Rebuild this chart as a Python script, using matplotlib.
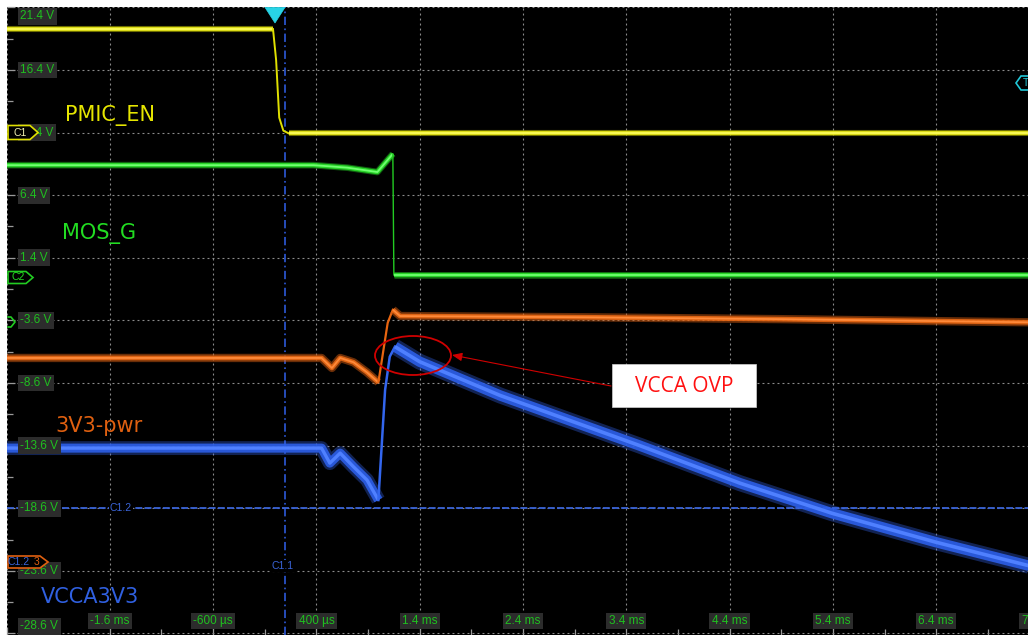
import matplotlib
matplotlib.use("Agg")
import matplotlib.pyplot as plt
from matplotlib.patches import Ellipse, Rectangle, Polygon

plt.rcParams['lines.scale_dashes'] = False

# ---------------- data (time in ms, voltage in V) ----------------
pmic_t = [-2.6, -0.02, 0.01, 0.04, 0.08, 0.13, 7.3]
pmic_v = [19.67, 19.67, 17.2, 12.6, 11.55, 11.35, 11.35]

mos_t = [-2.6, 0.37, 0.70, 0.99, 1.14, 1.15, 7.3]
mos_v = [8.80, 8.80, 8.60, 8.25, 9.70, 0.03, 0.03]

pwr_t = [-2.6, 0.45, 0.55, 0.63, 0.76, 0.89, 1.0, 1.09, 1.14, 1.21, 3.0, 4.9, 7.3]
pwr_v = [-6.6, -6.6, -7.4, -6.6, -6.95, -7.75, -8.55, -3.8, -2.75, -3.25, -3.35, -3.5, -3.75]

vcca_t = [-2.6, 0.45, 0.53, 0.63, 0.76, 0.89, 1.0, 1.065, 1.11, 1.16, 1.40, 2.18,
          3.53, 4.5, 5.39, 6.39, 7.3]
vcca_v = [-13.8, -13.8, -15.0, -14.2, -15.3, -16.35, -17.95, -9.15, -6.5, -5.7, -6.9,
          -9.6, -13.6, -16.6, -19.0, -21.3, -23.2]

y_ticks = [21.4, 16.4, 11.4, 6.4, 1.4, -3.6, -8.6, -13.6, -18.6, -23.6, -28.6]
y_tick_labels = ["21.4 V", "16.4 V", "11.4 V", "6.4 V", "1.4 V", "-3.6 V", "-8.6 V",
                 "-13.6 V", "-18.6 V", "-23.6 V", "-28.6 V"]
x_ticks = [-1.6, -0.6, 0.4, 1.4, 2.4, 3.4, 4.4, 5.4, 6.4, 7.4]
x_tick_labels = ["-1.6 ms", "-600 µs", "400 µs", "1.4 ms", "2.4 ms", "3.4 ms",
                 "4.4 ms", "5.4 ms", "6.4 ms", "7.4 ms"]

trigger_t = 0.0
cursor_t = 0.1
cursor_v = -18.6

# ---------------- geometry ----------------
W, H = 1028, 635
PX_X = 103.3   # pixels per ms
PX_Y = 12.52   # pixels per V
LEFT_PX, TOP_PX = 6.5, 7.4
XMIN = -2.6
XMAX = XMIN + (W - LEFT_PX) / PX_X
YMAX = 21.4
YMIN = YMAX - (H - TOP_PX) / PX_Y


def tx(px):
    return XMIN + (px - LEFT_PX) / PX_X


def vy(py):
    return YMAX - (py - TOP_PX) / PX_Y


fig = plt.figure(figsize=(W / 100, H / 100), dpi=100)
fig.patch.set_facecolor("white")
ax = fig.add_axes([LEFT_PX / W, 0, (W - LEFT_PX) / W, (H - TOP_PX) / H])
ax.set_facecolor("black")
for s in ax.spines.values():
    s.set_visible(False)

# grid
major_x = [XMIN + i for i in range(11)]
minor_x = [XMIN + i + 0.5 for i in range(10)]
major_y = y_ticks
minor_y = [v - 2.5 for v in y_ticks[:-1]]
ax.set_xticks(major_x)
ax.set_xticks(minor_x, minor=True)
ax.set_yticks(major_y)
ax.set_yticks(minor_y, minor=True)
ax.set_xlim(XMIN, XMAX)
ax.set_ylim(YMIN, YMAX)
ax.tick_params(which="both", direction="in", colors="#9a9a9a",
               labelleft=False, labelbottom=False, width=0.9)
ax.tick_params(which="major", length=6)
ax.tick_params(which="minor", length=4)
ax.grid(True, which="major", color="#8c8c8c", linestyle=(0, (1.4, 2.2)), linewidth=0.8)
ax.set_axisbelow(True)

# cursors
ax.axvline(cursor_t, color="#2a52c8", lw=1.3, dashes=(6, 2.5, 1.2, 2.5), zorder=2)
ax.axhline(cursor_v, color="#3a64d8", lw=1.3, dashes=(5, 1.6), zorder=2)


# ---------------- traces ----------------
def band(t, v, core, mid, outer, w_out, w_mid, w_core, z, a_out=0.5):
    ax.plot(t, v, color=outer, lw=w_out, alpha=a_out, solid_capstyle="butt", zorder=z)
    ax.plot(t, v, color=mid, lw=w_mid, alpha=0.9, solid_capstyle="butt", zorder=z)
    ax.plot(t, v, color=core, lw=w_core, solid_capstyle="butt", zorder=z)


YEL = ("#ffff60", "#e8e81a", "#c8c800")
GRN = ("#70ff70", "#2ae02a", "#20b820")
ORG = ("#ff8a3a", "#ea6814", "#d05a10")
BLU = ("#4f80ff", "#2c5ee8", "#3466f0")

# yellow PMIC_EN
band(pmic_t[:2], pmic_v[:2], *YEL, 4.4, 3.0, 1.2, 5)
ax.plot(pmic_t[1:6], pmic_v[1:6], color="#e0e000", lw=1.4, zorder=5)
band(pmic_t[5:], pmic_v[5:], *YEL, 4.4, 3.0, 1.2, 5)

# green MOS_G
band(mos_t[:5], mos_v[:5], *GRN, 4.8, 3.2, 1.3, 5)
ax.plot(mos_t[4:6], mos_v[4:6], color="#22cc22", lw=1.0, zorder=5)
band(mos_t[5:], mos_v[5:], *GRN, 4.8, 3.2, 1.3, 5)

# orange 3V3-pwr
band(pwr_t[:7], pwr_v[:7], *ORG, 6.0, 3.4, 1.3, 4)
ax.plot(pwr_t[6:9], pwr_v[6:9], color="#e86510", lw=1.6, zorder=4)
band(pwr_t[8:], pwr_v[8:], *ORG, 6.0, 3.4, 1.3, 4)

# blue VCCA3V3
band(vcca_t[:7], vcca_v[:7], *BLU, 10.0, 6.5, 2.4, 3, 0.35)
ax.plot(vcca_t[6:10], vcca_v[6:10], color="#3366ee", lw=1.8, zorder=3)
band(vcca_t[9:], vcca_v[9:], *BLU, 11.5, 7.5, 2.6, 3, 0.35)

# ---------------- axis labels (scope style) ----------------
lab_font = dict(family="Liberation Sans", fontsize=8.5, color="#1fc01f")
lab_box = dict(boxstyle="square,pad=0.2", fc="#2c2c2c", ec="none")
for v, lbl in zip(y_ticks, y_tick_labels):
    dy = 0
    if v == y_ticks[0]:
        dy = -9
    elif v == y_ticks[-1]:
        dy = 7
    ax.annotate(lbl, xy=(XMIN, v), xytext=(14, dy), textcoords="offset pixels",
                ha="left", va="center", bbox=lab_box, zorder=8, **lab_font)
for t, lbl in zip(x_ticks, x_tick_labels):
    ax.annotate(lbl, xy=(t, YMIN), xytext=(0, 14), textcoords="offset pixels",
                ha="center", va="center", bbox=lab_box, zorder=8,
                annotation_clip=False, clip_on=True, **lab_font)

# ---------------- trace names ----------------
name_font = dict(family="DejaVu Sans", fontsize=15)
ax.text(tx(65), vy(115), "PMIC_EN", color="#e6e600", ha="left", va="center", **name_font)
ax.text(tx(62), vy(233), "MOS_G", color="#22dd22", ha="left", va="center", **name_font)
ax.text(tx(55), vy(426), "3V3-pwr", color="#e06010", ha="left", va="center", **name_font)
ax.text(tx(41), vy(597), "VCCA3V3", color="#3060e0", ha="left", va="center", **name_font)


# ---------------- channel markers ----------------
def poly(pts, ec, fc="black", lw=1.2, z=9):
    p = Polygon([(tx(a), vy(b)) for a, b in pts], closed=True, ec=ec, fc=fc, lw=lw,
                zorder=z, clip_on=False)
    ax.add_patch(p)


small = dict(family="Liberation Sans", fontsize=7.5, ha="center", va="center", zorder=10)
poly([(8, 125.5), (30, 125.5), (38, 132.5), (30, 139.5), (8, 139.5)], "#e0e000")
ax.text(tx(20), vy(132.5), "C1", color="#f0f0b0", **small)
poly([(8, 271.5), (26, 271.5), (33, 277.5), (26, 283.5), (8, 283.5)], "#22cc22")
ax.text(tx(18), vy(277.5), "C2", color="#22dd22", **small)
ax.plot([tx(8), tx(11), tx(15), tx(11), tx(8)], [vy(317), vy(317), vy(322), vy(327), vy(327)],
        color="#22cc22", lw=1.2, zorder=9, clip_on=False)
poly([(8, 556), (40, 556), (48, 562), (40, 568), (8, 568)], "#e06010")
ax.text(tx(19), vy(562), "C1.2", color="#3a64d8", **small)
ax.text(tx(37), vy(562), "3", color="#e06010", **small)
poly([(1016, 83), (1021, 76), (1030, 76), (1030, 90), (1021, 90)], "#20c8d8")
ax.text(tx(1026), vy(83), "T", color="#20c8d8", **small)

# trigger marker
poly([(265, 7.4), (285, 7.4), (275, 23)], "#28d4e6", fc="#28d4e6", lw=0.5)

# cursor tags
ax.text(tx(121), cursor_v, "C1.2", color="#3a64d8",
        bbox=dict(boxstyle="square,pad=0.1", fc="black", ec="none"), **small)
ax.text(tx(283), vy(566), "C1.1", color="#3a64d8",
        bbox=dict(boxstyle="square,pad=0.05", fc="black", ec="none"), **small)

# ---------------- annotation ----------------
ax.add_patch(Ellipse((tx(413), vy(355.5)), 76 / PX_X, 39 / PX_Y, fill=False,
                     ec="#d00000", lw=1.3, zorder=11))
ax.annotate("", xy=(tx(452), vy(355)), xytext=(tx(611), vy(386)),
            arrowprops=dict(arrowstyle="-|>,head_length=0.6,head_width=0.25",
                            color="#d00000", lw=0.8, shrinkA=0, shrinkB=0), zorder=11)
ax.add_patch(Rectangle((tx(612), vy(407)), 144 / PX_X, 43 / PX_Y, fc="white",
                       ec="#d0d0d0", lw=0.5, zorder=11))
ax.text(tx(684), vy(386), "VCCA OVP", color="#ff1010", family="Open Sans",
        fontsize=15, ha="center", va="center", zorder=12)

fig.savefig("out.png", dpi=100, facecolor=fig.get_facecolor())
